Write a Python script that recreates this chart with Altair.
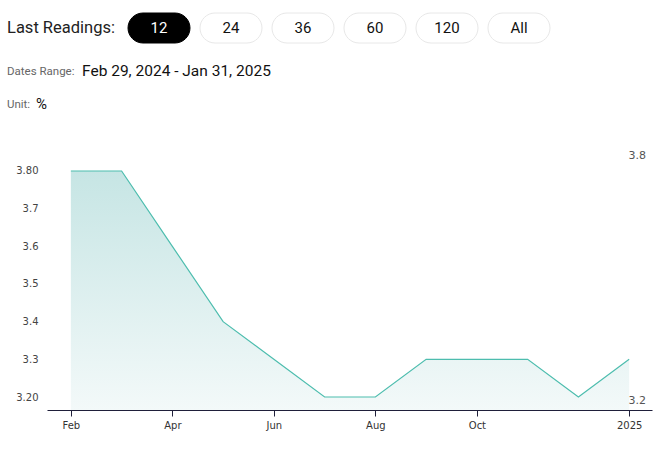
import altair as alt
import pandas as pd

# ---- data ----
months = ["Feb", "Mar", "Apr", "May", "Jun", "Jul", "Aug", "Sep", "Oct", "Nov", "Dec", "2025"]
values = [3.8, 3.8, 3.6, 3.4, 3.3, 3.2, 3.2, 3.3, 3.3, 3.3, 3.2, 3.3]
tick_idx = [0, 2, 4, 6, 8, 11]
y_ticks = [3.2, 3.3, 3.4, 3.5, 3.6, 3.7, 3.8]
buttons = ["12", "24", "36", "60", "120", "All"]

df = pd.DataFrame({"i": list(range(len(values))), "m": months, "v": values})
bdf = pd.DataFrame({"b": buttons, "k": list(range(len(buttons)))})

W, H = 605, 260
PL, PT = 47, 150

FONT = "Roboto"
AXF = "DejaVu Sans"

xscale = alt.Scale(domain=[-0.47, 11.45], nice=False, zero=False)
yscale = alt.Scale(domain=[3.1655, 3.8557], nice=False, zero=False)

label_expr = ("datum.value == 0 ? 'Feb' : datum.value == 2 ? 'Apr' : datum.value == 4 ? 'Jun' : "
              "datum.value == 6 ? 'Aug' : datum.value == 8 ? 'Oct' : '2025'")
ylabel_expr = ("(datum.value > 3.79 || datum.value < 3.21) ? format(datum.value, '.2f') : format(datum.value, '.1f')")

base = alt.Chart(df)

area = base.mark_area(
    line=False,
    color=alt.Gradient(
        gradient="linear",
        stops=[alt.GradientStop(color="#c6e5e4", offset=0), alt.GradientStop(color="#f3f9f9", offset=1)],
        x1=1, x2=1, y1=0, y2=1,
    ),
).encode(
    x=alt.X("i:Q", scale=xscale,
            axis=alt.Axis(values=tick_idx, labelExpr=label_expr, title=None, grid=False,
                          domainColor="#1f1f3a", domainWidth=1.2, tickColor="#1f1f3a", tickSize=6,
                          labelFont=AXF, labelFontSize=10, labelColor="#333333", labelPadding=4)),
    y=alt.Y("v:Q", scale=yscale,
            axis=alt.Axis(values=y_ticks, labelExpr=ylabel_expr, title=None, grid=False,
                          domain=False, ticks=False, labelFont=AXF, labelFontSize=10,
                          labelColor="#444444", labelPadding=9)),
    y2=alt.Y2(datum=3.1655),
)

line = base.mark_line(color="#4dbdae", strokeWidth=1.2).encode(
    x=alt.X("i:Q", scale=xscale), y=alt.Y("v:Q", scale=yscale)
)

maxdf = pd.DataFrame({"t": [f"{max(values):.1f}"], "v": [max(values)]})
mindf = pd.DataFrame({"t": [f"{min(values):.1f}"], "v": [min(values)]})
max_txt = alt.Chart(maxdf).mark_text(align="right", baseline="middle", font=AXF, fontSize=11,
                                     color="#555555", dy=-15).encode(
    x=alt.value(599), y=alt.Y("v:Q", scale=yscale), text="t:N")
min_txt = alt.Chart(mindf).mark_text(align="right", baseline="middle", font=AXF, fontSize=11,
                                     color="#555555", dy=4).encode(
    x=alt.value(599), y=alt.Y("v:Q", scale=yscale), text="t:N")

# ---- header (UI) ----
btn_rect = alt.Chart(bdf).mark_rect(cornerRadius=15, strokeWidth=1).transform_calculate(
    x1="81 + 72*datum.k", x2="81 + 72*datum.k + 62"
).encode(
    x=alt.X("x1:Q", scale=None), x2="x2:Q",
    y=alt.value(13 - PT), y2=alt.value(43 - PT),
    fill=alt.condition("datum.k == 0", alt.value("#000000"), alt.value("#ffffff")),
    stroke=alt.condition("datum.k == 0", alt.value("#000000"), alt.value("#e8e8e8")),
)
btn_txt = alt.Chart(bdf).mark_text(font=FONT, fontSize=15, baseline="middle", align="center").transform_calculate(
    xc="81 + 72*datum.k + 31"
).encode(
    x=alt.X("xc:Q", scale=None), y=alt.value(28 - PT), text="b:N",
    color=alt.condition("datum.k == 0", alt.value("#ffffff"), alt.value("#111111")),
)

def txt(s, x, y, size, color):
    return alt.Chart(pd.DataFrame({"t": [s]})).mark_text(
        align="left", baseline="middle", font=FONT, fontSize=size, color=color
    ).encode(x=alt.value(x - PL), y=alt.value(y - PT), text="t:N")

hdr = [
    txt("Last Readings:", 7, 28, 16.5, "#222222"),
    txt("Dates Range:", 7, 72, 11.5, "#666666"),
    txt("Feb 29, 2024 - Jan 31, 2025", 82, 71, 15.5, "#111111"),
    txt("Unit:", 7, 105, 11.5, "#666666"),
    txt("%", 36, 104, 15, "#111111"),
]

chart = alt.layer(area, line, max_txt, min_txt, btn_rect, btn_txt, *hdr).properties(
    width=W, height=H,
    background="#ffffff",
    autosize=alt.AutoSizeParams(type="none"),
    padding={"left": PL, "top": PT, "right": 664 - PL - W, "bottom": 459 - PT - H},
).configure_view(strokeWidth=0)

chart.save("out.html", embed_options={"renderer": "svg", "actions": False})
